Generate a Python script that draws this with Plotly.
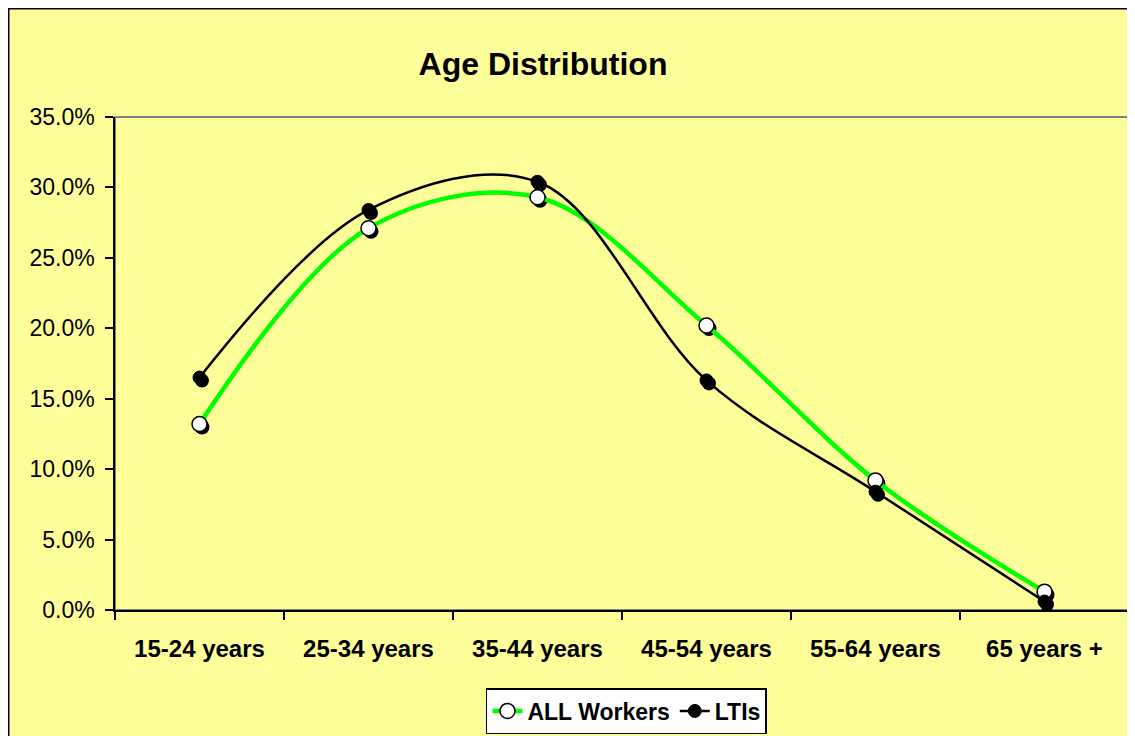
import plotly.graph_objects as go

categories = ["15-24 years", "25-34 years", "35-44 years", "45-54 years", "55-64 years", "65 years +"]
all_workers = [0.132, 0.271, 0.293, 0.202, 0.092, 0.013]
ltis = [0.165, 0.284, 0.304, 0.163, 0.084, 0.006]

FONT = "Liberation Sans, Arial, sans-serif"
BG = "#FFFF99"

# the page body adds an 8px margin, so the figure is 8px smaller
W, H = 1127, 728
ML, MR, MT, MB = 107, 6, 109, 126
pw = W - ML - MR
ph = H - MT - MB
y_max = 0.35
dx = 2.5 * 6 / pw
dy = 3.0 * y_max / ph

fig = go.Figure()

# marker shadows (on hidden base axes, shifted a few pixels)
fig.add_trace(go.Scatter(x=categories, y=all_workers, mode="markers", xaxis="x", yaxis="y",
                         marker=dict(size=15, color="black"), showlegend=False, hoverinfo="skip"))
fig.add_trace(go.Scatter(x=categories, y=ltis, mode="markers", xaxis="x", yaxis="y",
                         marker=dict(size=14, color="black"), showlegend=False, hoverinfo="skip"))

# main series
fig.add_trace(go.Scatter(x=categories, y=all_workers, name="ALL Workers", mode="lines+markers",
                         xaxis="x2", yaxis="y2",
                         line=dict(color="#00FF00", width=4.5, shape="spline", smoothing=1),
                         marker=dict(size=15, color="white", line=dict(color="black", width=1.5))))
fig.add_trace(go.Scatter(x=categories, y=ltis, name="LTIs", mode="lines+markers",
                         xaxis="x2", yaxis="y2",
                         line=dict(color="black", width=2.5, shape="spline", smoothing=1),
                         marker=dict(size=13, color="black", line=dict(color="black", width=1))))

fig.update_layout(
    width=W, height=H,
    margin=dict(l=ML, r=MR, t=MT, b=MB, autoexpand=False),
    paper_bgcolor=BG,
    plot_bgcolor=BG,
    font=dict(family=FONT, color="black"),
    title=dict(text="Age Distribution", x=(543 - 8) / W, xanchor="center", xref="container",
               y=1 - (64 - 8) / H, yanchor="middle", yref="container",
               font=dict(size=32, family=FONT, color="black", weight="bold")),
    xaxis=dict(type="category", categoryorder="array", categoryarray=categories,
               range=[-0.5 - dx, 5.5 - dx], visible=False, automargin=False),
    yaxis=dict(range=[dy, y_max + dy], visible=False, automargin=False),
    xaxis2=dict(type="category", categoryorder="array", categoryarray=categories,
                overlaying="x", range=[-0.5, 5.5], side="bottom", automargin=False,
                showline=True, linecolor="black", linewidth=1.5,
                ticks="outside", tickson="boundaries", ticklen=8, tickcolor="black", tickwidth=1.5,
                tickfont=dict(size=24, family=FONT, color="black", weight="bold"),
                showgrid=False, zeroline=False, ticklabelstandoff=16),
    yaxis2=dict(overlaying="y", range=[0, y_max], side="left", anchor="x2", automargin=False,
                dtick=0.05, tickformat=".1%",
                showline=True, linecolor="black", linewidth=1.5,
                ticks="outside", ticklen=8, tickcolor="black", tickwidth=1.5,
                tickfont=dict(size=23, family=FONT, color="black"),
                showgrid=False, zeroline=False, ticklabelstandoff=6),
    legend=dict(orientation="h", x=0.5044, xanchor="center", y=-(726 - (MT + ph)) / ph, yanchor="bottom",
                bgcolor="white", bordercolor="black", borderwidth=1.5,
                font=dict(size=23, family=FONT, color="black", weight="bold"),
                tracegroupgap=0),
    shapes=[
        # outer chart area black border (right/bottom edges lie beyond the view)
        dict(type="rect", xref="paper", yref="paper", layer="below",
             x0=(0.75 - ML) / pw, x1=(W + 60 - ML) / pw,
             y0=-(MB + 60) / ph, y1=(MT + ph - 0.75) / ph,
             fillcolor=BG, line=dict(color="black", width=1.5)),
        # plot area grey border
        dict(type="rect", xref="paper", yref="paper", layer="below",
             x0=0, x1=1, y0=0, y1=1, fillcolor=BG, line=dict(color="#808080", width=2)),
    ],
)

fig.write_html("out.html")
